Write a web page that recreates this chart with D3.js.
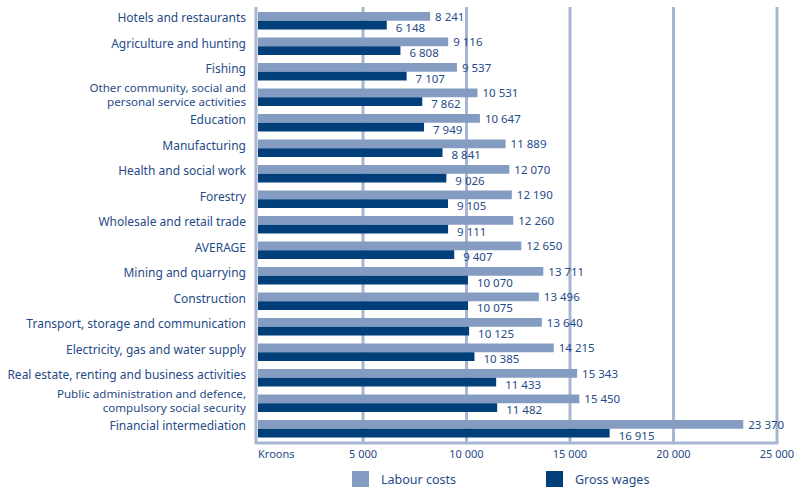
<!DOCTYPE html>
<html>
<head>
<meta charset="utf-8">
<script src="https://cdn.jsdelivr.net/npm/d3@7"></script>
<style>
  body { margin: 0; background: #fff; }
  text { font-family: "Noto Sans", sans-serif; fill: #1f4b88; }
</style>
</head>
<body>
<div id="chart"></div>
<script>
var categories = [
  "Hotels and restaurants",
  "Agriculture and hunting",
  "Fishing",
  "Other community, social and|personal service activities",
  "Education",
  "Manufacturing",
  "Health and social work",
  "Forestry",
  "Wholesale and retail trade",
  "AVERAGE",
  "Mining and quarrying",
  "Construction",
  "Transport, storage and communication",
  "Electricity, gas and water supply",
  "Real estate, renting and business activities",
  "Public administration and defence,|compulsory social security",
  "Financial intermediation"
];
var labourCosts = [8241, 9116, 9537, 10531, 10647, 11889, 12070, 12190, 12260, 12650, 13711, 13496, 13640, 14215, 15343, 15450, 23370];
var grossWages = [6148, 6808, 7107, 7862, 7949, 8841, 9026, 9105, 9111, 9407, 10070, 10075, 10125, 10385, 11433, 11482, 16915];
var xTicks = [5000, 10000, 15000, 20000, 25000];

var width = 794, height = 487;
var labourColor = "#849cc2", wagesColor = "#003f7a", gridColor = "#a8b6d1";

var svg = d3.select("#chart").append("svg")
  .attr("width", width)
  .attr("height", height);

var x = d3.scaleLinear().domain([0, 25000]).range([259.5, 777]);
var y = d3.scaleBand().domain(d3.range(categories.length)).range([12, 437.5]).paddingInner(0.314).paddingOuter(0);

var fmt = function (v) {
  return d3.format(",")(v).replace(/,/g, " ");
};

// gridlines
svg.selectAll("line.grid")
  .data(xTicks)
  .enter()
  .append("line")
  .attr("x1", function (d) { return x(d); })
  .attr("x2", function (d) { return x(d); })
  .attr("y1", 7)
  .attr("y2", 443)
  .attr("stroke", gridColor)
  .attr("stroke-width", 3);

// axis lines
svg.append("line")
  .attr("x1", 256).attr("x2", 256).attr("y1", 7).attr("y2", 444)
  .attr("stroke", gridColor).attr("stroke-width", 3);
svg.append("line")
  .attr("x1", 255).attr("x2", x(25000) + 1.5).attr("y1", 443).attr("y2", 443)
  .attr("stroke", gridColor).attr("stroke-width", 3);

var bh = y.bandwidth() / 2;

var groups = svg.selectAll("g.cat")
  .data(categories)
  .enter()
  .append("g")
  .attr("transform", function (d, i) { return "translate(0," + y(i) + ")"; });

groups.append("rect")
  .attr("x", x(0) - 1.5)
  .attr("y", 0)
  .attr("width", function (d, i) { return x(labourCosts[i]) - x(0) + 1.5; })
  .attr("height", bh)
  .attr("fill", labourColor);

groups.append("rect")
  .attr("x", x(0) - 1.5)
  .attr("y", bh)
  .attr("width", function (d, i) { return x(grossWages[i]) - x(0) + 1.5; })
  .attr("height", bh)
  .attr("fill", wagesColor);

groups.append("text")
  .attr("x", function (d, i) { return x(labourCosts[i]) + 5; })
  .attr("y", bh / 2 + 4.5)
  .style("font-size", "11.5px")
  .text(function (d, i) { return fmt(labourCosts[i]); });

groups.append("text")
  .attr("x", function (d, i) { return x(grossWages[i]) + 9; })
  .attr("y", bh * 1.5 + 6.5)
  .style("font-size", "11.5px")
  .text(function (d, i) { return fmt(grossWages[i]); });

// category labels (one text per line)
groups.each(function (d) {
  var lines = d.split("|");
  var g = d3.select(this);
  var lh = 14.5;
  var start = y.bandwidth() / 2 - 3 - (lines.length - 1) * lh / 2 + 4.5;
  lines.forEach(function (l, k) {
    g.append("text")
      .attr("text-anchor", "end")
      .attr("x", 246)
      .attr("y", start + k * lh)
      .style("font-size", lines.length > 1 ? "11.6px" : "12px")
      .text(l);
  });
});

// x tick labels
svg.selectAll("text.tick")
  .data(xTicks)
  .enter()
  .append("text")
  .attr("x", function (d) { return x(d); })
  .attr("y", 458)
  .attr("text-anchor", "middle")
  .style("font-size", "11px")
  .text(function (d) { return fmt(d); });

svg.append("text")
  .attr("x", 258)
  .attr("y", 458)
  .style("font-size", "11px")
  .text("Kroons");

// legend
var legend = [["Labour costs", labourColor, 352], ["Gross wages", wagesColor, 546]];
legend.forEach(function (l) {
  svg.append("rect")
    .attr("x", l[2]).attr("y", 471).attr("width", 17).attr("height", 17)
    .attr("fill", l[1]);
  svg.append("text")
    .attr("x", l[2] + 29).attr("y", 484)
    .style("font-size", "12.5px")
    .text(l[0]);
});
</script>
</body>
</html>
